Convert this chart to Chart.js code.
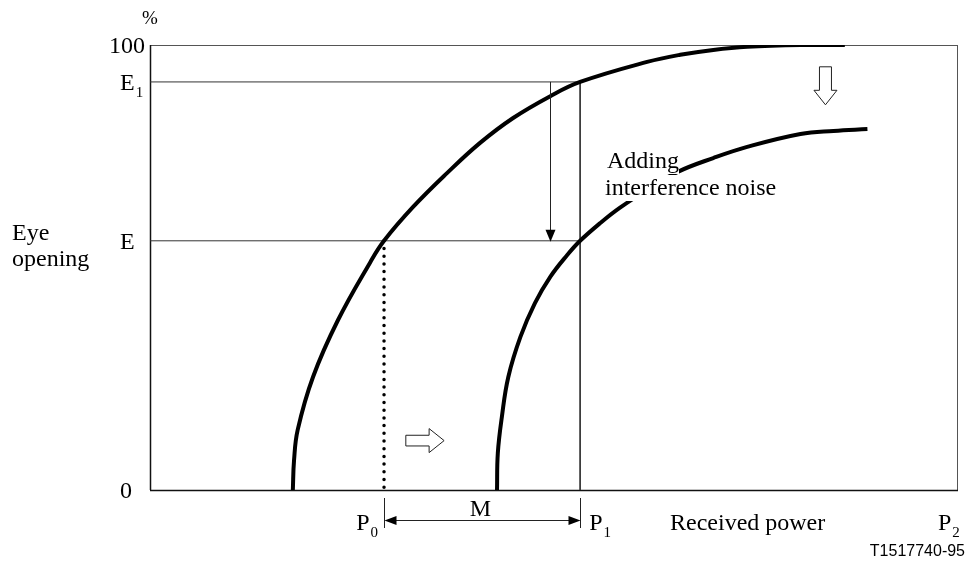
<!DOCTYPE html>
<html>
<head>
<meta charset="utf-8">
<script src="https://cdn.jsdelivr.net/npm/chart.js@4/dist/chart.umd.min.js"></script>
<style>
  html, body { margin: 0; padding: 0; background: #fff; }
  #wrap { width: 968px; height: 564px; position: relative; }
</style>
</head>
<body>
<div id="wrap"><canvas id="c"></canvas></div>
<script>
// ---- Data (relative units: received power 0..100, eye opening 0..100 %) ----
const P0 = 29.0;          // received power giving eye opening E without noise
const P1 = 53.3;          // received power giving eye opening E with noise
const E_LEVEL = 56.0;     // eye opening E
const E1_LEVEL = 91.7;    // eye opening E1

// Curve without interference noise
const cleanX = [17.7, 17.85, 18.3, 20.2, 23.3, 27.3, 29.0, 32.6, 36.8, 40.9, 45.0, 49.6, 53.3, 61.6, 65.7, 69.8, 74.0, 80.6, 86.1];
const cleanY = [0, 6.7, 13.5, 25.4, 38.2, 51.2, 56.0, 63.6, 71.2, 78.0, 83.6, 88.5, 91.7, 96.2, 97.8, 98.9, 99.6, 100, 100];

// Curve after adding interference noise
const noisyX = [43.0, 43.1, 43.6, 44.4, 45.9, 47.7, 49.6, 51.7, 53.3, 55.8, 58.2, 62.0, 65.4, 69.8, 74.0, 80.6, 84.7, 88.9];
const noisyY = [0, 8.3, 16.4, 25.4, 34.4, 42.0, 47.9, 52.8, 56.0, 60.0, 63.4, 67.9, 71.5, 74.6, 77.1, 80.0, 80.7, 81.1];

const yTickValues = [0, E_LEVEL, E1_LEVEL, 100];
const yTickLabels = [['0', ''], ['E', ''], ['E', '1'], ['100', '']];
const xTickValues = [P0, P1];
const xTickLabels = [['P', '0'], ['P', '1']];

const toPts = (xs, ys) => xs.map((x, i) => ({ x: x, y: ys[i] }));

const SERIF = "'Liberation Serif', 'Times New Roman', serif";
const SANS = "'Liberation Sans', Arial, sans-serif";
const FS = 24, SFS = 15;

function subText(ctx, main, sub, x, y, size, subSize, align) {
  ctx.font = size + 'px ' + SERIF;
  const w1 = ctx.measureText(main).width;
  ctx.font = subSize + 'px ' + SERIF;
  const w2 = sub ? ctx.measureText(sub).width + 1 : 0;
  let left = x;
  if (align === 'right') left = x - w1 - w2;
  if (align === 'center') left = x - (w1 + w2) / 2;
  ctx.textAlign = 'left';
  ctx.textBaseline = 'alphabetic';
  ctx.font = size + 'px ' + SERIF;
  ctx.fillText(main, left, y);
  if (sub) {
    ctx.font = subSize + 'px ' + SERIF;
    ctx.fillText(sub, left + w1 + 1, y + 7);
  }
}

function hollowDown(ctx, cx, top, sw, sl, hw, hl) {
  ctx.beginPath();
  ctx.moveTo(cx - sw / 2, top);
  ctx.lineTo(cx + sw / 2, top);
  ctx.lineTo(cx + sw / 2, top + sl);
  ctx.lineTo(cx + hw / 2, top + sl);
  ctx.lineTo(cx, top + sl + hl);
  ctx.lineTo(cx - hw / 2, top + sl);
  ctx.lineTo(cx - sw / 2, top + sl);
  ctx.closePath();
  ctx.fillStyle = '#fff';
  ctx.fill();
  ctx.strokeStyle = '#222';
  ctx.lineWidth = 1;
  ctx.stroke();
}

function hollowRight(ctx, left, cy, sh, sl, hh, hl) {
  ctx.beginPath();
  ctx.moveTo(left, cy - sh / 2);
  ctx.lineTo(left + sl, cy - sh / 2);
  ctx.lineTo(left + sl, cy - hh / 2);
  ctx.lineTo(left + sl + hl, cy);
  ctx.lineTo(left + sl, cy + hh / 2);
  ctx.lineTo(left + sl, cy + sh / 2);
  ctx.lineTo(left, cy + sh / 2);
  ctx.closePath();
  ctx.fillStyle = '#fff';
  ctx.fill();
  ctx.strokeStyle = '#222';
  ctx.lineWidth = 1;
  ctx.stroke();
}

function filledHead(ctx, tipX, tipY, dir, len, half) {
  ctx.beginPath();
  ctx.moveTo(tipX, tipY);
  if (dir === 'down') { ctx.lineTo(tipX - half, tipY - len); ctx.lineTo(tipX + half, tipY - len); }
  if (dir === 'left') { ctx.lineTo(tipX + len, tipY - half); ctx.lineTo(tipX + len, tipY + half); }
  if (dir === 'right') { ctx.lineTo(tipX - len, tipY - half); ctx.lineTo(tipX - len, tipY + half); }
  ctx.closePath();
  ctx.fillStyle = '#000';
  ctx.fill();
}

const figurePlugin = {
  id: 'figure',
  beforeDatasetsDraw(chart) {
    const { ctx, chartArea: a } = chart;
    ctx.save();
    ctx.strokeStyle = '#555';
    ctx.lineWidth = 1;
    ctx.strokeRect(a.left + 0.5, a.top + 0.5, a.right - a.left, a.bottom - a.top);
    ctx.strokeStyle = '#111';
    ctx.lineWidth = 1.5;
    ctx.beginPath();
    ctx.moveTo(a.left, a.bottom + 0.5);
    ctx.lineTo(a.right + 1, a.bottom + 0.5);
    ctx.moveTo(a.left + 0.5, a.top);
    ctx.lineTo(a.left + 0.5, a.bottom);
    ctx.stroke();
    ctx.restore();
  },
  afterDatasetsDraw(chart) {
    const { ctx, chartArea: a } = chart;
    const xs = chart.scales.x, ys = chart.scales.y;
    ctx.save();
    ctx.fillStyle = '#000';

    // y tick labels
    yTickValues.forEach((v, i) => {
      const [m, s] = yTickLabels[i];
      const yy = ys.getPixelForValue(v) + 8;
      if (m === '100') subText(ctx, m, s, a.left - 5, yy, FS, SFS, 'right');
      else subText(ctx, m, s, a.left - 30, yy, FS, SFS, 'left');
    });
    // axis unit
    ctx.font = '19px ' + SERIF;
    ctx.textAlign = 'center';
    ctx.fillText('%', a.left, 24);
    // y title
    ctx.textAlign = 'left';
    ctx.font = FS + 'px ' + SERIF;
    ctx.fillText('Eye', 12, 240);
    ctx.fillText('opening', 12, 266);

    // x tick labels
    xTickValues.forEach((v, i) => {
      const [m, s] = xTickLabels[i];
      const px = xs.getPixelForValue(v);
      if (i === 0) subText(ctx, m, s, px - 6, 530, FS, SFS, 'right');
      else subText(ctx, m, s, px + 9, 530, FS, SFS, 'left');
    });
    ctx.font = FS + 'px ' + SERIF;
    ctx.textAlign = 'left';
    ctx.fillText('Received power', 670, 530);
    subText(ctx, 'P', '2', 938, 530, FS, SFS, 'left');

    // M dimension
    const x0 = Math.round(xs.getPixelForValue(P0)) + 0.5;
    const x1 = Math.round(xs.getPixelForValue(P1)) + 0.5;
    ctx.strokeStyle = '#222';
    ctx.lineWidth = 1;
    ctx.beginPath();
    ctx.moveTo(x0, 498); ctx.lineTo(x0, 528);
    ctx.moveTo(x1, 498); ctx.lineTo(x1, 528);
    ctx.moveTo(x0 + 8, 520.5); ctx.lineTo(x1 - 8, 520.5);
    ctx.stroke();
    filledHead(ctx, x0, 520.5, 'left', 12, 4.5);
    filledHead(ctx, x1, 520.5, 'right', 12, 4.5);
    ctx.font = FS + 'px ' + SERIF;
    ctx.textAlign = 'center';
    ctx.fillText('M', (x0 + x1) / 2 - 2, 516);

    // vertical arrow from E1 down to E
    const ax = Math.round(xs.getPixelForValue(49.6)) + 0.5;
    const yE1 = ys.getPixelForValue(E1_LEVEL), yE = ys.getPixelForValue(E_LEVEL);
    ctx.beginPath();
    ctx.moveTo(ax, yE1); ctx.lineTo(ax, yE - 10);
    ctx.stroke();
    filledHead(ctx, ax, yE + 1, 'down', 12, 5);

    // hollow arrows
    hollowDown(ctx, xs.getPixelForValue(83.7), ys.getPixelForValue(95.1), 12, 23.5, 23, 14.5);
    hollowRight(ctx, xs.getPixelForValue(31.7), ys.getPixelForValue(11.1), 10.7, 23.3, 24, 15);

    // annotation with white backing
    ctx.font = FS + 'px ' + SERIF;
    ctx.textAlign = 'left';
    const w1 = ctx.measureText('Adding').width;
    const w2 = ctx.measureText('interference noise').width;
    ctx.fillStyle = '#fff';
    ctx.fillRect(604, 150, w1 + 3, 24);
    ctx.fillRect(602, 175, w2 + 4, 26);
    ctx.fillStyle = '#000';
    ctx.fillText('Adding', 607, 168);
    ctx.fillText('interference noise', 605, 195);

    // figure id
    ctx.font = '16px ' + SANS;
    ctx.textAlign = 'right';
    ctx.fillText('T1517740-95', 965, 556);
    ctx.restore();
  }
};

const thin = { borderColor: '#333', borderWidth: 1, pointRadius: 0, fill: false, tension: 0 };

new Chart(document.getElementById('c'), {
  type: 'line',
  data: {
    datasets: [
      { label: 'Without noise', data: toPts(cleanX, cleanY), borderColor: '#000', borderWidth: 4,
        pointRadius: 0, tension: 0.4, fill: false, borderCapStyle: 'butt' },
      { label: 'Adding interference noise', data: toPts(noisyX, noisyY), borderColor: '#000', borderWidth: 4,
        pointRadius: 0, tension: 0.4, fill: false, borderCapStyle: 'butt' },
      Object.assign({ label: 'E1 level', data: [{ x: 0, y: E1_LEVEL }, { x: P1, y: E1_LEVEL }] }, thin),
      Object.assign({ label: 'E level', data: [{ x: 0, y: E_LEVEL }, { x: P1, y: E_LEVEL }] }, thin),
      Object.assign({ label: 'P1', data: [{ x: P1, y: E1_LEVEL }, { x: P1, y: 0 }] }, thin),
      { label: 'P0', data: [{ x: P0, y: E_LEVEL }, { x: P0, y: 0 }], borderColor: '#000', borderWidth: 3.5,
        borderDash: [0, 7.7], borderCapStyle: 'round', pointRadius: 0, fill: false }
    ]
  },
  options: {
    responsive: true,
    maintainAspectRatio: false,
    animation: false,
    layout: { padding: { left: 150, right: 11, top: 45, bottom: 74 } },
    scales: {
      x: { type: 'linear', min: 0, max: 100, display: false },
      y: { type: 'linear', min: 0, max: 100, display: false }
    },
    plugins: { legend: { display: false }, tooltip: { enabled: false } }
  },
  plugins: [figurePlugin]
});
</script>
</body>
</html>
